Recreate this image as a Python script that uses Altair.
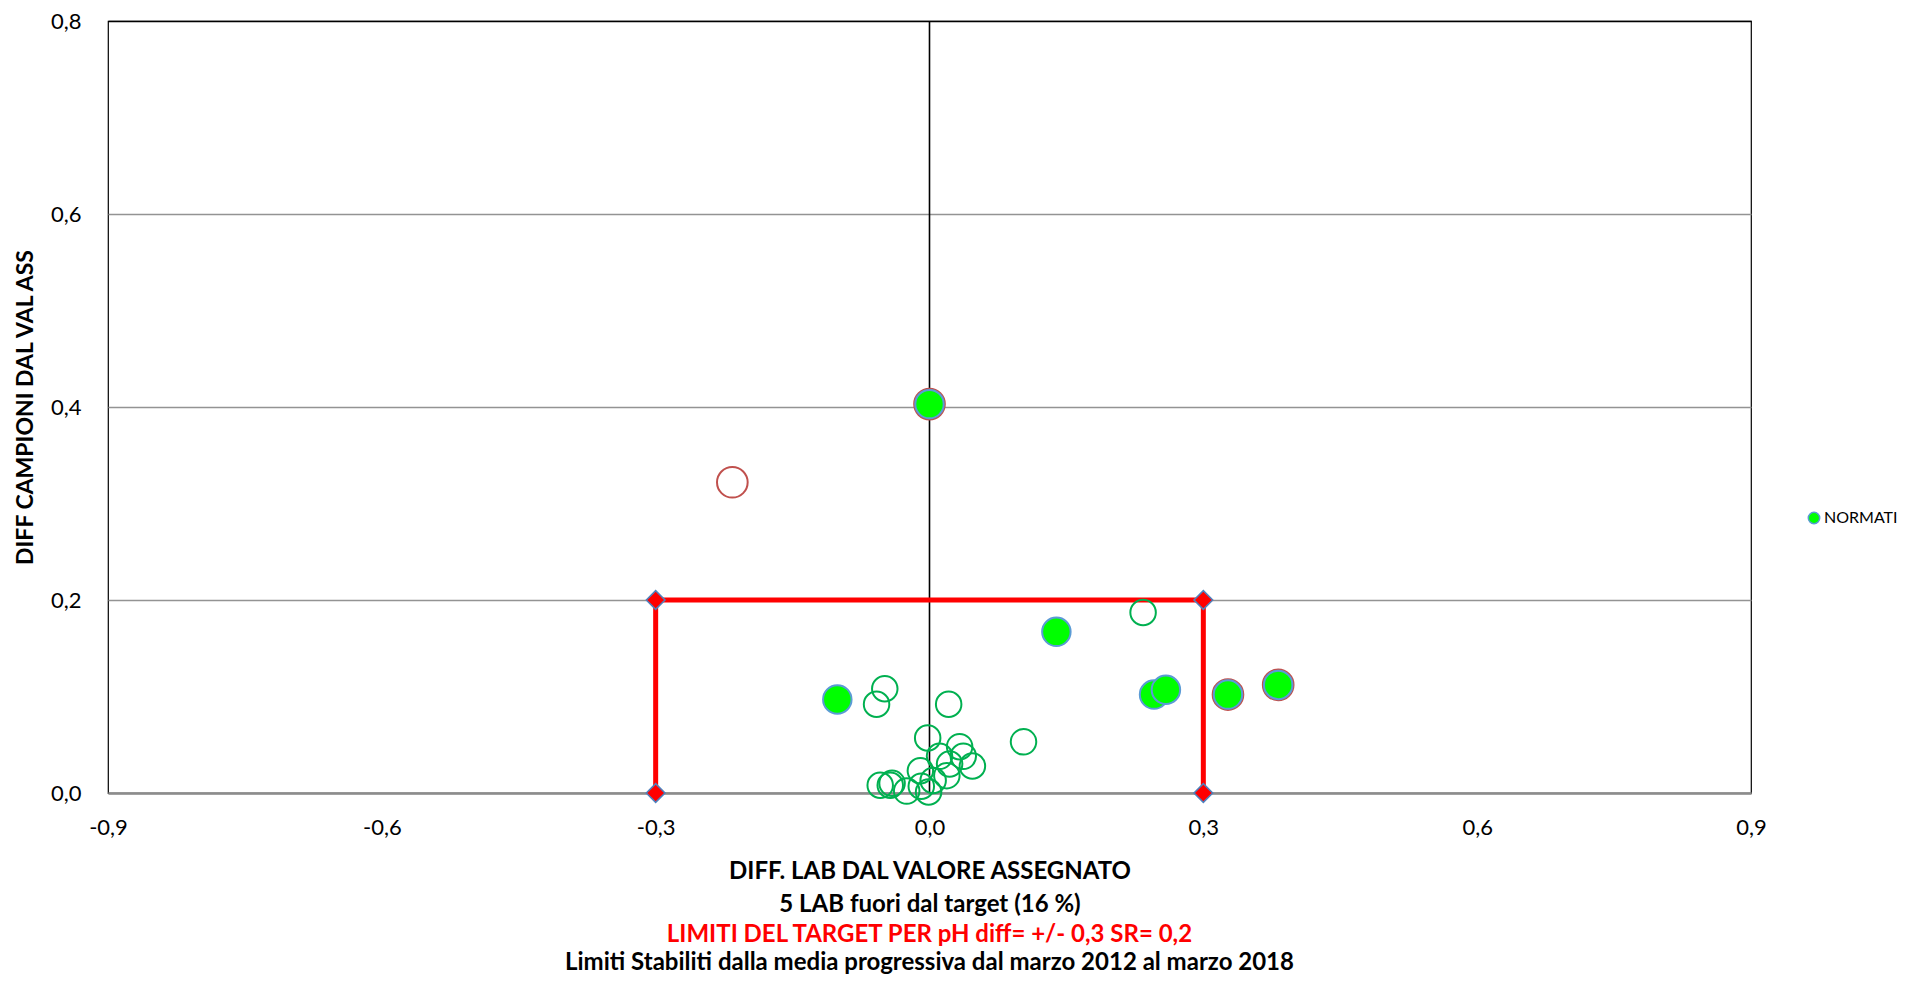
import altair as alt
import pandas as pd

# Laboratories inside target (hollow green circles)
in_x = [0.234, -0.049, -0.058, 0.021, 0.103, -0.002, 0.033, 0.011, 0.037, 0.022,
        0.047, 0.019, -0.010, -0.041, -0.054, -0.043, -0.025, -0.009, -0.001, 0.004]
in_y = [0.187, 0.108, 0.092, 0.092, 0.053, 0.057, 0.048, 0.038, 0.038, 0.030,
        0.028, 0.018, 0.023, 0.010, 0.008, 0.008, 0.002, 0.007, 0.001, 0.013]

# Laboratories outside target (hollow red circles)
out_x = [-0.216, 0.000, 0.327, 0.382]
out_y = [0.322, 0.403, 0.102, 0.112]

# NORMATI series (filled green)
norm_x = [0.000, -0.101, 0.139, 0.246, 0.259, 0.327, 0.382]
norm_y = [0.403, 0.097, 0.167, 0.102, 0.107, 0.102, 0.112]

# Target limits
lim_x = [-0.3, -0.3, 0.3, 0.3]
lim_y = [0.0, 0.2, 0.2, 0.0]

zero_x = [0.0]

x_ticks = [-0.9, -0.6, -0.3, 0.0, 0.3, 0.6, 0.9]
y_ticks = [0.0, 0.2, 0.4, 0.6, 0.8]

FONT = "Lato"
label_expr = "(datum.value < -0.0001 ? '-' : '') + replace(format(abs(datum.value), '.1f'), '.', ',')"

x_enc = alt.X(
    "x:Q",
    scale=alt.Scale(domain=[-0.9, 0.9], nice=False, zero=False),
    axis=alt.Axis(
        values=x_ticks, labelExpr=label_expr, grid=False, ticks=False, tickSize=0,
        domainColor="#8c8c8c", domainWidth=2.5, labelPadding=24, labelFlush=False,
        labelFont=FONT, labelFontSize=22, labelColor="black",
        title=["DIFF. LAB DAL VALORE ASSEGNATO", "5 LAB fuori dal target (16 %)"],
        titleFont=FONT, titleFontSize=24, titleFontWeight="bold", titleColor="black",
        titleLineHeight=33, titlePadding=21,
    ),
)
y_enc = alt.Y(
    "y:Q",
    scale=alt.Scale(domain=[0, 0.8], nice=False),
    axis=alt.Axis(
        values=y_ticks, labelExpr=label_expr, grid=True,
        gridColor={"condition": {"test": "datum.value > 0.79", "value": "black"}, "value": "#939393"},
        gridWidth=1.3, ticks=False, tickSize=0, domain=False, labelPadding=27,
        labelFont=FONT, labelFontSize=22, labelColor="black",
        title="DIFF CAMPIONI DAL VAL ASS", titleFont=FONT, titleFontSize=23,
        titleFontWeight="bold", titleColor="black", titlePadding=13,
    ),
)

df_in = pd.DataFrame({"x": in_x, "y": in_y})
df_out = pd.DataFrame({"x": out_x, "y": out_y})
df_norm = pd.DataFrame({"x": norm_x, "y": norm_y, "serie": ["NORMATI"] * len(norm_x)})
df_lim = pd.DataFrame({"x": lim_x, "y": lim_y, "o": list(range(len(lim_x)))})
df_zero = pd.DataFrame({"x": zero_x})

zero = alt.Chart(df_zero).mark_rule(color="black", strokeWidth=1.6).encode(x=x_enc)

target_line = alt.Chart(df_lim).mark_line(color="#FF0000", strokeWidth=5).encode(
    x=x_enc, y=y_enc, order="o:Q")

target_pts = alt.Chart(df_lim).mark_point(
    shape="diamond", filled=True, fill="#FF0000", stroke="#4F81BD", strokeWidth=1.5,
    size=350, opacity=1).encode(x=x_enc, y=y_enc)

hollow_in = alt.Chart(df_in).mark_point(
    shape="circle", filled=False, stroke="#00B050", strokeWidth=2, size=650, opacity=1
).encode(x=x_enc, y=y_enc)

hollow_out = alt.Chart(df_out).mark_point(
    shape="circle", filled=False, stroke="#C0504D", strokeWidth=2, size=940, opacity=1
).encode(x=x_enc, y=y_enc)

normati = alt.Chart(df_norm).mark_circle(
    stroke="#5B9BD5", strokeWidth=2, size=810, opacity=1
).encode(
    x=x_enc, y=y_enc,
    color=alt.Color(
        "serie:N",
        scale=alt.Scale(domain=["NORMATI"], range=["#00FF00"]),
        legend=alt.Legend(
            title=None, orient="none", legendX=1698, legendY=489,
            symbolType="circle", symbolSize=130, symbolStrokeColor="#5B9BD5",
            symbolStrokeWidth=1.5, symbolFillColor="#00FF00", labelFont=FONT,
            labelFontSize=16, labelColor="black", labelOffset=2, padding=0,
        ),
    ),
)

chart = alt.layer(zero, target_line, target_pts, hollow_in, hollow_out, normati).properties(
    width=1643,
    height=772,
    padding={"left": 100, "top": 13, "right": 150, "bottom": 181},
    autosize=alt.AutoSizeParams(type="none"),
    title=alt.TitleParams(
        text="LIMITI DEL TARGET PER pH diff= +/- 0,3 SR= 0,2",
        subtitle="Limiti Stabiliti dalla media progressiva dal marzo 2012 al marzo 2018",
        orient="bottom", anchor="middle", frame="group",
        color="#FF0000", font=FONT, fontSize=24, fontWeight="bold",
        subtitleColor="black", subtitleFont=FONT, subtitleFontSize=24,
        subtitleFontWeight="bold", offset=7, subtitlePadding=4,
    ),
).configure_view(stroke="black", strokeWidth=1.2)

chart.save("out.html", embed_options={"renderer": "svg", "actions": False})
